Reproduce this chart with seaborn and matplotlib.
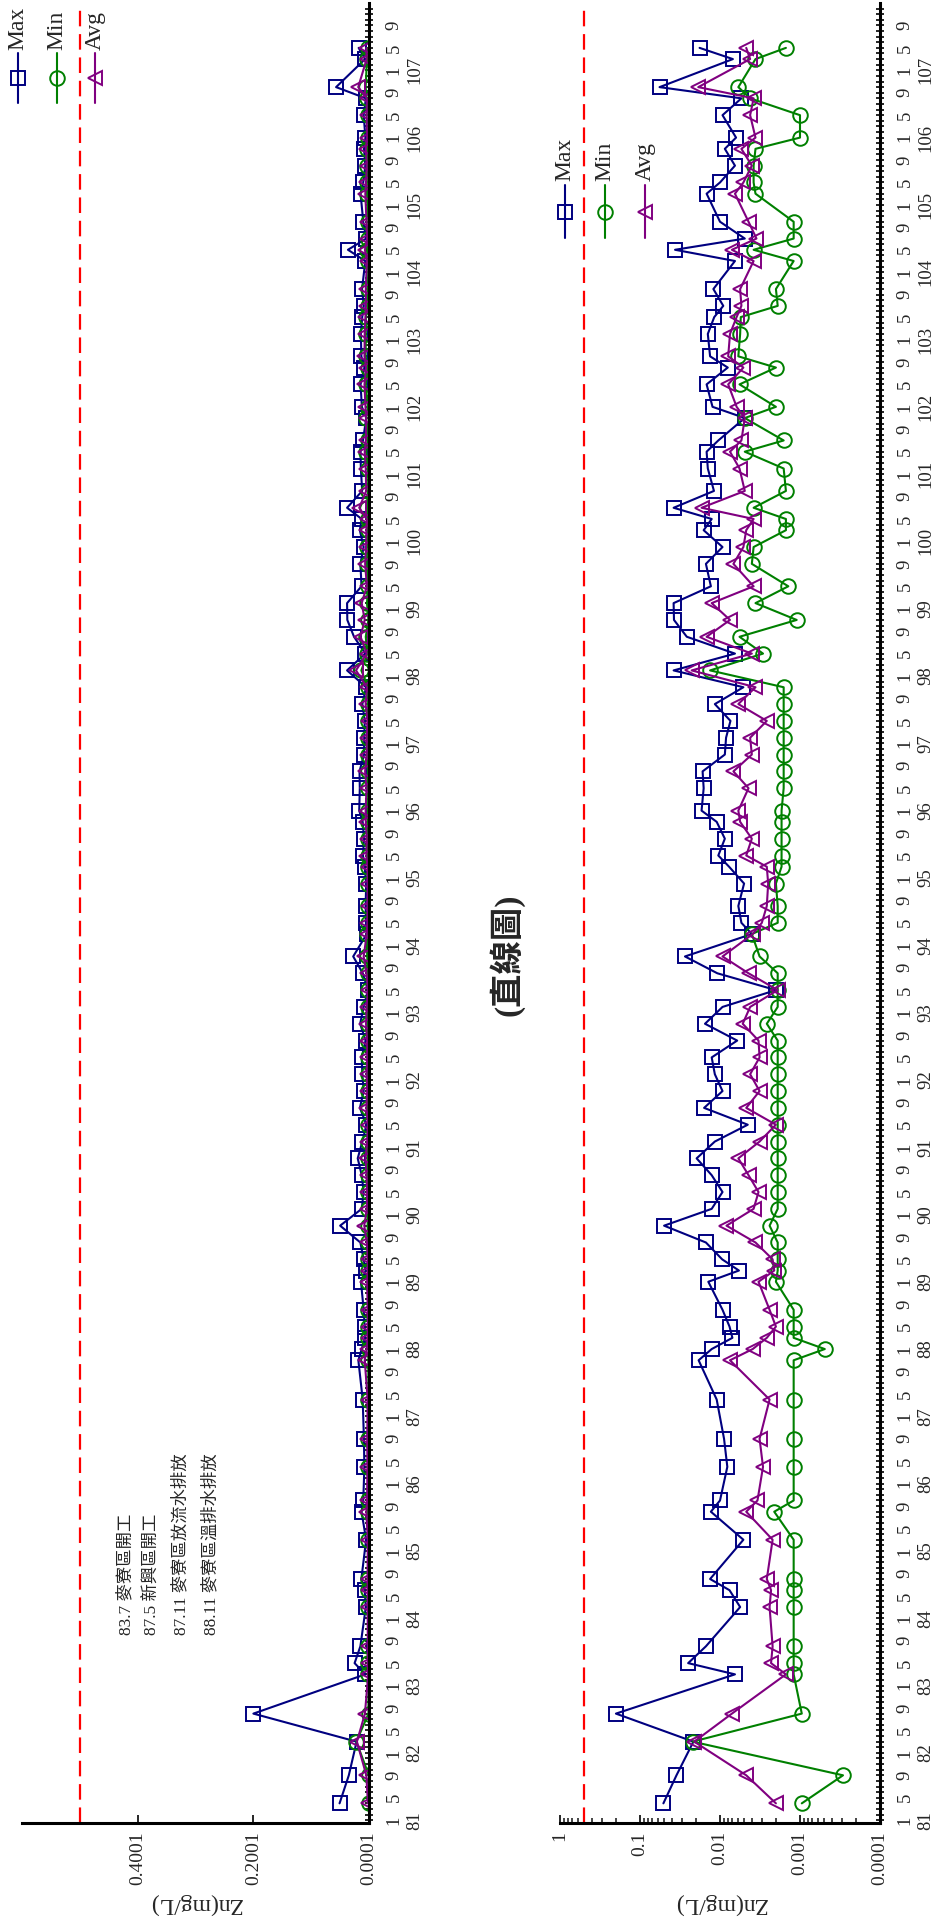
import numpy as np
import matplotlib
matplotlib.use("Agg")
import matplotlib.pyplot as plt
import seaborn as sns
from matplotlib.lines import Line2D
from matplotlib.ticker import FixedLocator, NullFormatter, LogLocator

# ---------------- data (sampling dates: ROC year / month) ----------------
years = [81, 81, 82, 82, 83, 83, 83, 84, 84, 84, 85, 85, 85, 86, 86, 87, 87, 88, 88, 88,
         88, 89, 89, 89, 89, 89, 90, 90, 90, 90, 91, 91, 91, 91, 92, 92, 92, 92, 93, 93,
         93, 93, 94, 94, 94, 94, 95, 95, 95, 95, 96, 96, 96, 96, 97, 97, 97, 97, 98, 98,
         98, 98, 99, 99, 99, 99, 100, 100, 100, 100, 101, 101, 101, 101, 102, 102, 102, 102,
         103, 103, 103, 103, 104, 104, 104, 104, 105, 105, 105, 105, 106, 106, 106, 106,
         107, 107]
months = [4, 9, 3, 8, 3, 5, 8, 3, 6, 8, 3, 8, 10, 4, 9, 4, 11, 1, 3, 5,
          8, 1, 3, 5, 8, 11, 2, 5, 8, 11, 2, 5, 8, 11, 2, 5, 8, 11, 2, 5,
          8, 11, 3, 5, 8, 12, 3, 5, 8, 11, 1, 5, 8, 11, 2, 5, 8, 11, 2, 5,
          8, 11, 2, 5, 9, 12, 3, 5, 7, 10, 2, 5, 7, 11, 1, 5, 8, 10,
          2, 5, 7, 10, 3, 5, 7, 10, 3, 5, 8, 11, 1, 5, 8, 10,
          3, 5]
zn_max = [0.051, 0.035, 0.0215, 0.20, 0.0065, 0.025, 0.015, 0.0056, 0.0076, 0.0133,
          0.0051, 0.013, 0.010, 0.0081, 0.0089, 0.011, 0.0185, 0.0127, 0.0070, 0.0076,
          0.0093, 0.014, 0.0058, 0.0094, 0.015, 0.050, 0.0127, 0.0093, 0.0127, 0.0196,
          0.0116, 0.0045, 0.0158, 0.0093, 0.0116, 0.0127, 0.0061, 0.0154, 0.0093, 0.0020,
          0.0108, 0.0274, 0.0040, 0.0054, 0.0059, 0.0050, 0.0077, 0.0105, 0.0087, 0.011,
          0.017, 0.016, 0.0165, 0.0087, 0.0084, 0.0074, 0.0116, 0.0051, 0.038, 0.0065,
          0.026, 0.0376, 0.038, 0.013, 0.015, 0.0093, 0.016, 0.0127, 0.038, 0.0119,
          0.0142, 0.0147, 0.0105, 0.0049, 0.0124, 0.0147, 0.0080, 0.0133, 0.0142, 0.0118,
          0.0091, 0.0121, 0.0065, 0.0365, 0.0049, 0.010, 0.0147, 0.010, 0.0065, 0.0087,
          0.0063, 0.0093, 0.0054, 0.057, 0.0069, 0.018]
zn_min = [0.00095, 0.00029, 0.022, 0.00095, 0.0012, 0.0012, 0.0012, 0.0012, 0.0012, 0.0012,
          0.0012, 0.0021, 0.0012, 0.0012, 0.0012, 0.0012, 0.0012, 0.00049, 0.0012, 0.0012,
          0.0012, 0.0020, 0.0019, 0.0019, 0.0019, 0.0024, 0.0019, 0.0019, 0.0019, 0.0019,
          0.0019, 0.0019, 0.0019, 0.0019, 0.0019, 0.0019, 0.0019, 0.0026, 0.0019, 0.0019,
          0.0019, 0.0032, 0.0040, 0.0019, 0.0019, 0.0020, 0.0017, 0.0017, 0.0017, 0.0017,
          0.0017, 0.0016, 0.0016, 0.0016, 0.0016, 0.0016, 0.0016, 0.0016, 0.0133, 0.0029,
          0.0057, 0.0011, 0.0036, 0.0014, 0.0040, 0.0038, 0.0015, 0.0015, 0.0038, 0.0015,
          0.0016, 0.0049, 0.0016, 0.0049, 0.0020, 0.0057, 0.0020, 0.0059, 0.0056, 0.0055,
          0.0019, 0.0020, 0.0012, 0.0038, 0.0012, 0.0012, 0.0036, 0.0038, 0.0038, 0.0036,
          0.0010, 0.0010, 0.0042, 0.0059, 0.0036, 0.0015]
zn_avg = [0.0020, 0.0047, 0.021, 0.0071, 0.0015, 0.0023, 0.0022, 0.0024, 0.0023, 0.0026,
          0.0022, 0.0047, 0.0034, 0.0029, 0.0032, 0.0024, 0.0075, 0.0039, 0.0026, 0.0020,
          0.0024, 0.0033, 0.0021, 0.0022, 0.0036, 0.0083, 0.0038, 0.0033, 0.0044, 0.0059,
          0.0032, 0.0020, 0.0047, 0.0032, 0.0042, 0.0032, 0.0033, 0.0052, 0.0042, 0.0019,
          0.0044, 0.0093, 0.0039, 0.0030, 0.0026, 0.0025, 0.0026, 0.0047, 0.0040, 0.0056,
          0.0059, 0.0044, 0.0068, 0.0040, 0.0042, 0.0026, 0.0059, 0.0036, 0.0226, 0.0040,
          0.0147, 0.0075, 0.0127, 0.0038, 0.0068, 0.0051, 0.0047, 0.0038, 0.017, 0.0049,
          0.0057, 0.0075, 0.0054, 0.0049, 0.0062, 0.0079, 0.0051, 0.0079, 0.0075, 0.0062,
          0.0054, 0.0056, 0.0038, 0.0071, 0.0035, 0.0044, 0.0065, 0.0051, 0.0040, 0.0054,
          0.0036, 0.0042, 0.0038, 0.0187, 0.0042, 0.0047]
limit_value = 0.5
series_names = ["Max", "Min", "Avg"]
tick_years = list(range(81, 108))
tick_months = [1, 5, 9]
linear_ticks = [0.0001, 0.2001, 0.4001]
linear_tick_labels = ["0.0001", "0.2001", "0.4001"]
log_ticks = [1, 0.1, 0.01, 0.001, 0.0001]
log_tick_labels = ["1", "0.1", "0.01", "0.001", "0.0001"]
y_label = "Zn(mg/L)"
title_text = "(直線圖)"
notes = ["83.7 麥寮區開工", "87.5 新興區開工", "87.11 麥寮區放流水排放", "88.11 麥寮區溫排水排放"]

# ---------------- styling ----------------
sns.set_style("white")
plt.rcParams["font.family"] = ["Liberation Serif", "Noto Sans CJK TC"]
plt.rcParams["axes.unicode_minus"] = False

colors = ["#000080", "#008000", "#800080"]
markers = ["s", "o", "<"]
W, H = 941, 1925
MS = 10.5

t = np.array(years) + (np.array(months) - 1) / 12.0
series_vals = [zn_max, zn_min, zn_avg]

fig = plt.figure(figsize=(W / 100, H / 100), dpi=100)


def fx(x):
    return x / W


def fy(y):
    return 1 - y / H


Y_TOP, Y_BOT = 3, 1823
ax_lin = fig.add_axes([fx(22), fy(Y_BOT), fx(369) - fx(22), fy(Y_TOP) - fy(Y_BOT)])
ax_log = fig.add_axes([fx(560), fy(Y_BOT), fx(880) - fx(560), fy(Y_TOP) - fy(Y_BOT)])


def draw(ax, log):
    for vals, c, m in zip(series_vals, colors, markers):
        sns.lineplot(x=vals, y=t, ax=ax, color=c, marker=m, markersize=MS,
                     markerfacecolor="none", markeredgecolor=c, markeredgewidth=1.4,
                     linewidth=1.5, sort=False, estimator=None, errorbar=None)
    ax.axvline(limit_value, color="#FF0000", lw=1.6, dashes=(7, 3.5))
    ax.set_ylim(80.958, 108.0)
    if log:
        ax.set_xscale("log")
        ax.set_xlim(1, 0.0001)
        ax.set_xticks(log_ticks)
        ax.set_xticklabels(log_tick_labels)
        ax.xaxis.set_minor_locator(LogLocator(base=10, subs=np.arange(2, 10)))
        ax.xaxis.set_minor_formatter(NullFormatter())
    else:
        ax.set_xlim(0.6, 0.0001)
        ax.set_xticks(linear_ticks)
        ax.set_xticklabels(linear_tick_labels)
    for lab in ax.get_xticklabels():
        lab.set_rotation(90)
        lab.set_va("top")
        lab.set_ha("center")
        lab.set_fontsize(14)
    for s in ["top", "left"]:
        ax.spines[s].set_visible(False)
    for s in ["right", "bottom"]:
        ax.spines[s].set_linewidth(2.2)
        ax.spines[s].set_color("black")
    ax.yaxis.tick_right()
    major = [y + (m - 1) / 12.0 for y in tick_years for m in tick_months]
    labels = [(f"{m}\n{y}" if m == 1 else f"{m}") for y in tick_years for m in tick_months]
    ax.set_yticks(major)
    ax.set_yticklabels(labels, rotation=90, va="center", ha="left", fontsize=13.5,
                       multialignment="center", linespacing=1.3)
    minor = [81 + k / 12.0 for k in range(0, 27 * 12)]
    ax.yaxis.set_minor_locator(FixedLocator(minor))
    ax.yaxis.set_minor_formatter(NullFormatter())
    ax.tick_params(axis="y", which="both", direction="inout", length=6, width=1.4,
                   pad=9, right=True, left=False)
    ax.tick_params(axis="x", which="major", direction="in", length=6, width=1.4, pad=6,
                   bottom=True, top=False)
    ax.tick_params(axis="x", which="minor", direction="in", length=3.5, width=1.2,
                   bottom=True, top=False)
    ax.set_xlabel(y_label, rotation=180, fontsize=17, labelpad=6)
    ax.set_ylabel("")
    ax.grid(False)
    ax.patch.set_alpha(0)


draw(ax_lin, False)
draw(ax_log, True)

# notes in the linear panel
note_x = [0.42, 0.375, 0.325, 0.273]
for nx, note in zip(note_x, notes):
    ax_lin.text(nx, 83.75, note, rotation=90, ha="center", va="bottom", fontsize=12.5)

# caption
fig.text(fx(507), fy(955), title_text, rotation=90, ha="center", va="center",
         fontsize=24, fontweight="bold")


def legend(xs, y_text_bottom, y_h0, y_h1):
    for x, name, c, m in zip(xs, series_names, colors, markers):
        fig.add_artist(Line2D([fx(x), fx(x)], [fy(y_h0), fy(y_h1)], color=c, lw=1.5,
                              transform=fig.transFigure))
        fig.add_artist(Line2D([fx(x)], [fy((y_h0 + y_h1) / 2)], marker=m, ms=MS,
                              mfc="none", mec=c, mew=1.4, linestyle="none",
                              transform=fig.transFigure))
        fig.text(fx(x), fy(y_text_bottom), name, rotation=90, ha="center", va="bottom",
                 fontsize=17)


legend([18, 57, 95], 50, 53, 103)
legend([565, 605, 645], 181, 185, 238)

fig.savefig("out.png", dpi=100)
